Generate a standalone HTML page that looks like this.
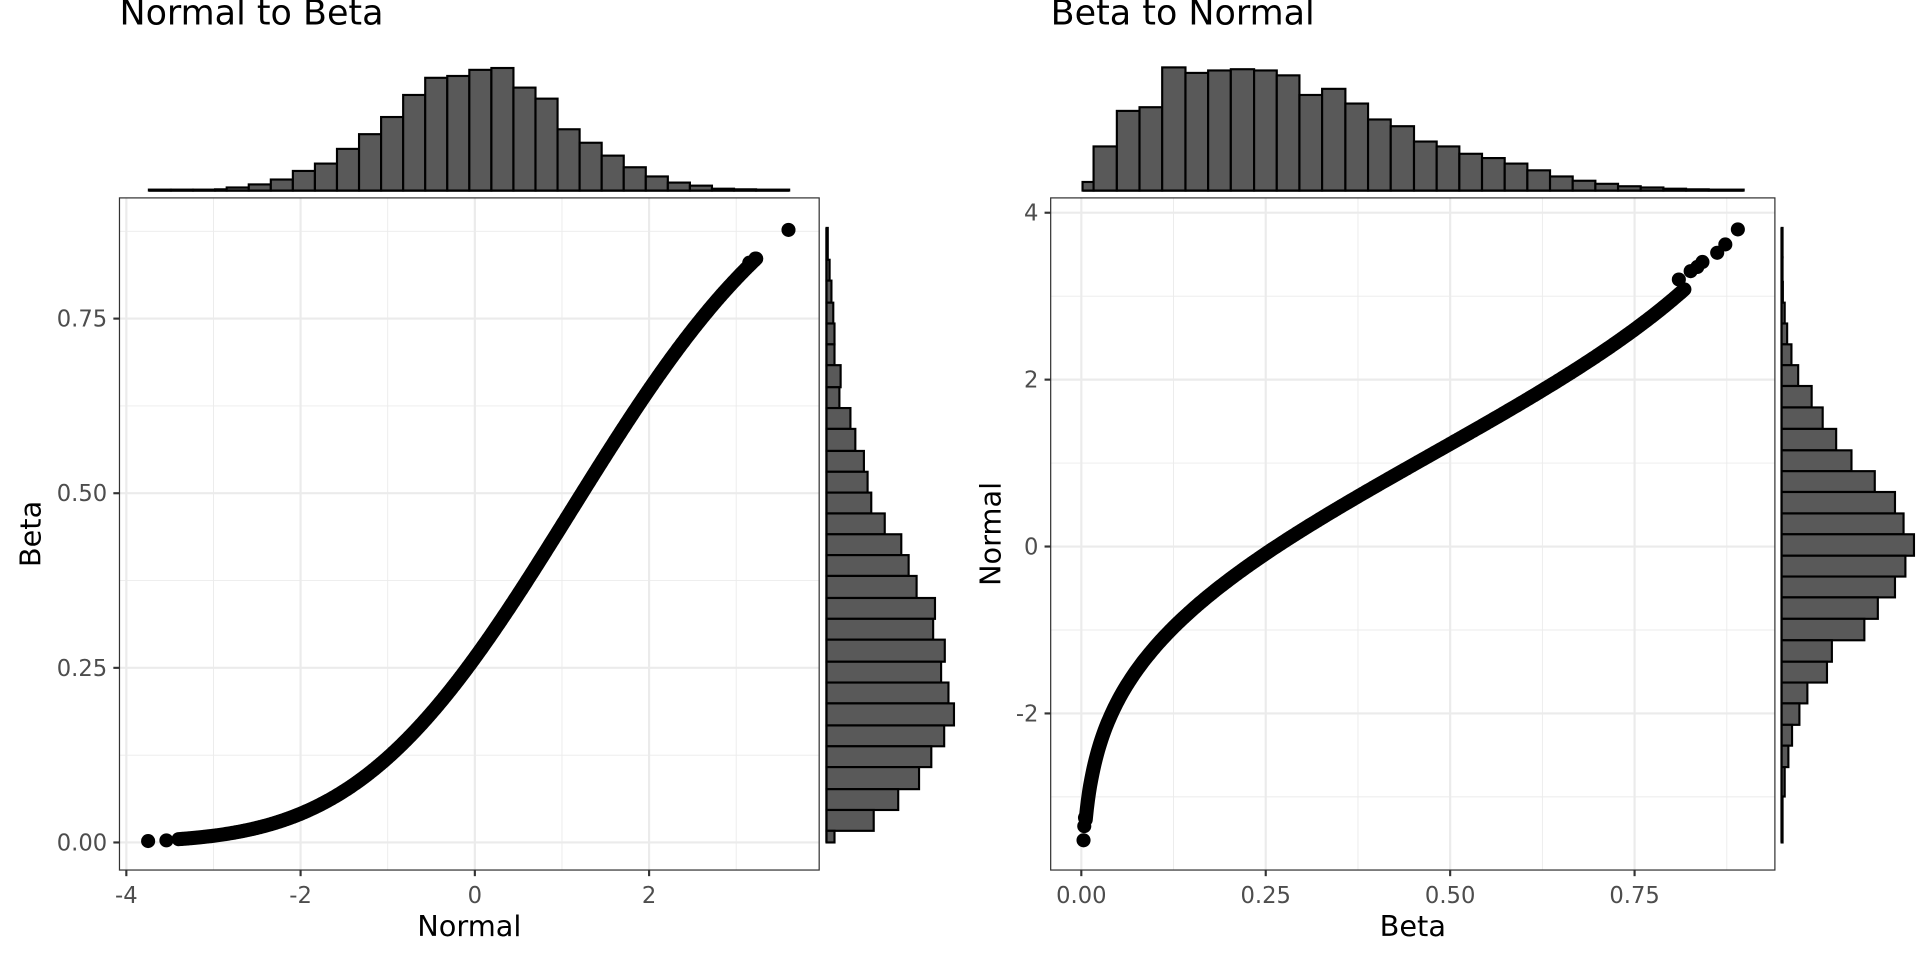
<!DOCTYPE html>
<html><head><meta charset="utf-8"><style>
html,body{margin:0;padding:0;background:#fff;}
svg{display:block;font-family:"DejaVu Sans","Liberation Sans",sans-serif;}
</style></head><body>
<svg id="s" width="1920" height="960" viewBox="0 0 1920 960" xmlns="http://www.w3.org/2000/svg">
<g id="L" transform="scale(0.6127)"></g>
<g id="R" transform="translate(960,0) scale(0.6127)"></g>
</svg>
<script>
const NS="http://www.w3.org/2000/svg";
function el(p,t,a,txt){const e=document.createElementNS(NS,t);for(const k in a)e.setAttribute(k,a[k]);if(txt!==undefined)e.textContent=txt;p.appendChild(e);return e;}
function erf(x){const s=x<0?-1:1;x=Math.abs(x);const t=1/(1+0.3275911*x);const y=1-(((((1.061405429*t-1.453152027)*t)+1.421413741)*t-0.284496736)*t+0.254829592)*t*Math.exp(-x*x);return s*y;}
function Phi(z){return 0.5*(1+erf(z/Math.SQRT2));}
function Fb(x){return 1-Math.pow(1-x,6)-6*x*Math.pow(1-x,5);}
function inv(f,p,lo,hi){for(let i=0;i<60;i++){const m=(lo+hi)/2;if(f(m)<p)lo=m;else hi=m;}return (lo+hi)/2;}
function panel(g,P,xt,yt,xmin,ymin,X,Y,xl,yl,title){
 el(g,'rect',{x:P[0],y:P[1],width:P[2]-P[0],height:P[3]-P[1],fill:'#fff'});
 xmin.forEach(v=>el(g,'line',{x1:X(v),x2:X(v),y1:P[1],y2:P[3],stroke:'#ebebeb','stroke-width':1.5}));
 ymin.forEach(v=>el(g,'line',{y1:Y(v),y2:Y(v),x1:P[0],x2:P[2],stroke:'#ebebeb','stroke-width':1.5}));
 xt.forEach(v=>el(g,'line',{x1:X(v[0]),x2:X(v[0]),y1:P[1],y2:P[3],stroke:'#ebebeb','stroke-width':3.5}));
 yt.forEach(v=>el(g,'line',{y1:Y(v[0]),y2:Y(v[0]),x1:P[0],x2:P[2],stroke:'#ebebeb','stroke-width':3.5}));
 xt.forEach(v=>{el(g,'line',{x1:X(v[0]),x2:X(v[0]),y1:P[3],y2:P[3]+10,stroke:'#333','stroke-width':3.5});
  el(g,'text',{x:X(v[0]),y:P[3]+54,'text-anchor':'middle','font-size':37,fill:'#4d4d4d'},v[1]);});
 yt.forEach(v=>{el(g,'line',{y1:Y(v[0]),y2:Y(v[0]),x1:P[0]-10,x2:P[0],stroke:'#333','stroke-width':3.5});
  el(g,'text',{x:P[0]-20,y:Y(v[0])+13,'text-anchor':'end','font-size':37,fill:'#4d4d4d'},v[1]);});
 el(g,'text',{x:(P[0]+P[2])/2,y:1528,'text-anchor':'middle','font-size':47,fill:'#000'},xl);
 el(g,'text',{x:0,y:0,'text-anchor':'middle','font-size':47,fill:'#000',transform:`translate(66,${(P[1]+P[3])/2}) rotate(-90)`},yl);
 el(g,'text',{x:P[0],y:40,'font-size':57,fill:'#000'},title);
}
function border(g,P){el(g,'rect',{x:P[0],y:P[1],width:P[2]-P[0],height:P[3]-P[1],fill:'none',stroke:'#333','stroke-width':2});}
function topHist(g,edges,tops,base){
 el(g,'line',{x1:edges[0],x2:edges[edges.length-1],y1:base,y2:base,stroke:'#000','stroke-width':4});
 for(let i=0;i<tops.length;i++){el(g,'rect',{x:edges[i],y:Math.min(tops[i],base-1.5),width:edges[i+1]-edges[i],height:Math.max(base-tops[i],1.5),fill:'#595959',stroke:'#000','stroke-width':3.5});}
}
function sideHist(g,left,edges,rights){
 el(g,'line',{x1:left,x2:left,y1:edges[0],y2:edges[edges.length-1],stroke:'#000','stroke-width':4});
 for(let i=0;i<rights.length;i++){el(g,'rect',{x:left,y:edges[i],width:Math.max(rights[i]-left,1.5),height:edges[i+1]-edges[i],fill:'#595959',stroke:'#000','stroke-width':3.5});}
}
(function(){
 const g=document.getElementById('L');
 const P=[195,323,1337,1420];
 const X=v=>775+142.2*v, Y=v=>1375-1140*v;
 panel(g,P,[[-4,'-4'],[-2,'-2'],[0,'0'],[2,'2']],[[0,'0.00'],[0.25,'0.25'],[0.5,'0.50'],[0.75,'0.75']],[-3,-1,1,3],[0.125,0.375,0.625,0.875],X,Y,'Normal','Beta','Normal to Beta');
 let d='';for(let z=-3.4;z<=3.23;z+=0.01){const b=inv(Fb,Phi(z),0,1);d+=(d?'L':'M')+X(z).toFixed(1)+','+Y(b).toFixed(1);}
 el(g,'path',{d:d,fill:'none',stroke:'#000','stroke-width':23,'stroke-linecap':'round','stroke-linejoin':'round'});
 [[-3.75,0.002],[-3.54,0.003],[3.6,0.877],[3.22,0.836],[3.15,0.83]].forEach(p=>el(g,'circle',{cx:X(p[0]),cy:Y(p[1]),r:11.5,fill:'#000'}));
 border(g,P);
 const t=[243,279,315,351,370,406,442,478,514,550,586,622,658,694,730,766,802,838,874,910,946,982,1018,1054,1090,1126,1162,1198,1234,1288];
 const tops=[311,310,310,309,306,301,293,279,267,243,219,191,155,127,124,114,111,143,161,211,233,254,273,288,298,303,308,309,310];
 topHist(g,t,tops,311);
 const se=[372,424,458,494,528,562,596,632,666,700,736,770,804,838,872,906,940,976,1010,1044,1080,1114,1148,1184,1218,1252,1288,1322,1356,1375];
 const sr=[1351,1354,1357,1360,1362,1362,1372,1370,1388,1396,1410,1416,1422,1444,1471,1483,1496,1526,1523,1542,1536,1548,1557,1541,1520,1500,1466,1426,1362];
 sideHist(g,1349,se,sr);
})();
(function(){
 const g=document.getElementById('R');
 const P=[148,323,1330,1420];
 const X=v=>198+1204*v, Y=v=>892-136.2*v;
 panel(g,P,[[0,'0.00'],[0.25,'0.25'],[0.5,'0.50'],[0.75,'0.75']],[[-2,'-2'],[0,'0'],[2,'2'],[4,'4']],[0.125,0.375,0.625,0.875],[-3,-1,1,3],X,Y,'Beta','Normal','Beta to Normal');
 let d='';const ptsx=[];for(let x=0.006;x<=0.818;x+=0.0015){ptsx.push(x);}
 ptsx.forEach(x=>{const z=inv(Phi,Fb(x),-6,6);d+=(d?'L':'M')+X(x).toFixed(1)+','+Y(z).toFixed(1);});
 el(g,'path',{d:d,fill:'none',stroke:'#000','stroke-width':23,'stroke-linecap':'round','stroke-linejoin':'round'});
 [[0.003,-3.52],[0.004,-3.35],[0.005,-3.25],[0.89,3.8],[0.873,3.62],[0.862,3.52],[0.842,3.41],[0.835,3.35],[0.826,3.3],[0.81,3.2]].forEach(p=>el(g,'circle',{cx:X(p[0]),cy:Y(p[1]),r:11.5,fill:'#000'}));
 border(g,P);
 const t=[200,218,256,293,330,368,405,442,480,517,554,591,629,666,703,741,778,815,852,889,926,963,1000,1037,1074,1111,1148,1185,1222,1279];
 const tops=[297,239,181,175,110,119,115,113,115,123,155,145,169,195,206,231,239,251,258,267,278,288,295,300,304,306,308,309,310];
 topHist(g,t,tops,311);
 const se=[372,420,460,494,528,562,596,630,665,700,735,769,803,838,872,907,941,975,1010,1045,1080,1114,1148,1183,1217,1252,1300,1375];
 const sr=[1341,1342,1343,1346,1350,1357,1368,1390,1408,1430,1455,1493,1526,1540,1557,1543,1526,1498,1476,1423,1415,1383,1370,1358,1352,1346,1342];
 sideHist(g,1341,se,sr);
})();
</script>
</body></html>
